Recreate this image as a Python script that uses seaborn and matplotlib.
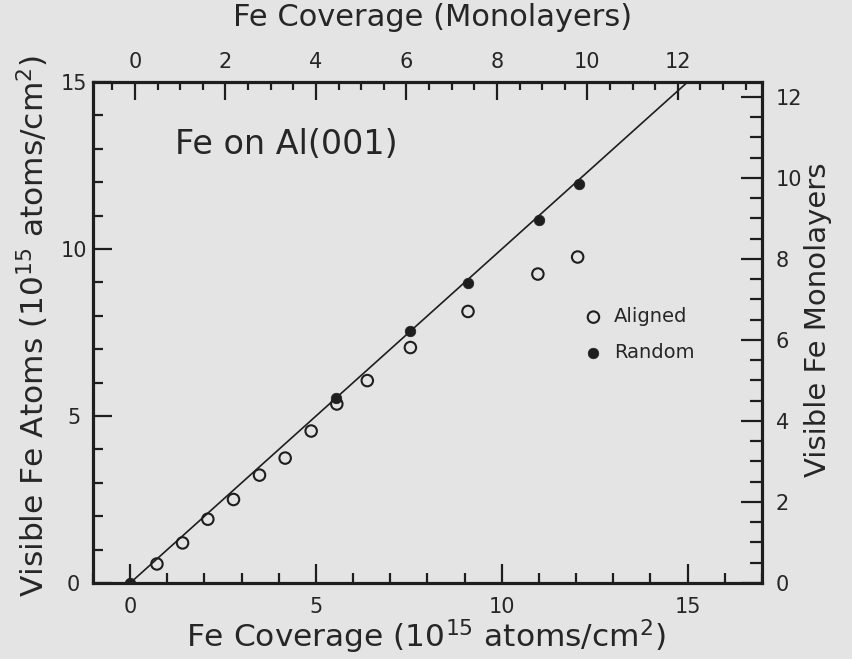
import matplotlib
matplotlib.use("Agg")
import matplotlib.pyplot as plt
import seaborn as sns
from matplotlib.ticker import MultipleLocator, FixedLocator

# ---- data ----
aligned_cov = [0.72, 1.41, 2.09, 2.78, 3.48, 4.17, 4.87, 5.56, 6.38, 7.54, 9.09, 10.97, 12.04]
aligned_vis = [0.57, 1.20, 1.91, 2.50, 3.23, 3.74, 4.55, 5.36, 6.06, 7.05, 8.13, 9.25, 9.76]
random_cov = [0.0, 5.54, 7.54, 9.09, 10.99, 12.07]
random_vis = [0.0, 5.54, 7.53, 8.98, 10.87, 11.94]
fit_cov = [0.0, 16.0]
fit_vis = [0.0, 16.0]

bottom_ticks = [0, 5, 10, 15]
left_ticks = [0, 5, 10, 15]
top_ticks = [0, 2, 4, 6, 8, 10, 12]
right_ticks = [0, 2, 4, 6, 8, 10, 12]

sns.set_theme(style="white")
plt.rcParams["font.family"] = ["DejaVu Sans"]
plt.rcParams["mathtext.fontset"] = "dejavusans"

ink = "#1e1e1e"
txt = "#262626"
bg = "#e4e4e4"

W, H = 853, 659
fig = plt.figure(figsize=(W / 100, H / 100), dpi=100, facecolor=bg)
ax = fig.add_axes([93 / W, (H - 583) / H, 669 / W, 501 / H])
ax.set_facecolor(bg)

sns.lineplot(x=fit_cov, y=fit_vis, ax=ax, color=ink, linewidth=1.2, zorder=2)
sns.scatterplot(x=aligned_cov, y=aligned_vis, ax=ax, marker="o", s=68,
                facecolors="none", edgecolor=ink, linewidth=1.5,
                label="Aligned", zorder=3)
sns.scatterplot(x=random_cov, y=random_vis, ax=ax, marker="o", s=58,
                color=ink, edgecolor=ink, linewidth=0.5,
                label="Random", zorder=4)

ax.set_xlim(-1.0, 17.0)
ax.set_ylim(0, 15)
ax.xaxis.set_major_locator(FixedLocator(bottom_ticks))
ax.xaxis.set_minor_locator(MultipleLocator(1))
ax.yaxis.set_major_locator(FixedLocator(left_ticks))
ax.yaxis.set_minor_locator(MultipleLocator(1))

tick_fs = 15
ax.tick_params(axis="both", which="both", direction="in", colors=ink,
               labelcolor=txt, top=False, right=False, bottom=True, left=True)
ax.tick_params(axis="both", which="major", length=14, width=1.6, labelsize=tick_fs)
ax.tick_params(axis="both", which="minor", length=7, width=1.6)
ax.tick_params(axis="x", which="major", pad=10)
ax.tick_params(axis="y", which="major", pad=14)
for lab in ax.get_yticklabels():
    lab.set_horizontalalignment("center")

for sp in ax.spines.values():
    sp.set_linewidth(2.2)
    sp.set_color(ink)

ax.set_xlabel(r"Fe Coverage (10$^{15}$ atoms/cm$^2$)", fontsize=22.5,
              color=txt, va="center")
ax.xaxis.set_label_coords(0.498, -0.108)
ax.set_ylabel(r"Visible Fe Atoms (10$^{15}$ atoms/cm$^2$)", fontsize=22.5,
              color=txt, va="center")
ax.yaxis.set_label_coords(-0.09, 0.513)

ax.text(1.2, 13.13, "Fe on Al(001)", fontsize=24, color=txt,
        ha="left", va="center")

leg = ax.legend(loc="center left", bbox_to_anchor=(0.719, 0.496),
                frameon=False, fontsize=14, handletextpad=0.55,
                labelspacing=0.85, markerscale=1.0, borderpad=0,
                handlelength=1.0, labelcolor=txt)

# top axis: monolayers
axt = ax.twiny()
axt.set_xlim(-0.928, 13.86)
axt.xaxis.set_major_locator(FixedLocator(top_ticks))
axt.xaxis.set_minor_locator(MultipleLocator(0.5))
axt.tick_params(axis="x", which="both", direction="in", colors=ink, labelcolor=txt,
                top=True, bottom=False, labeltop=True, labelbottom=False)
axt.tick_params(axis="x", which="major", length=13, width=1.6, labelsize=tick_fs, pad=7)
axt.tick_params(axis="x", which="minor", length=6, width=1.6)
axt.set_xlabel("Fe Coverage (Monolayers)", fontsize=22, color=txt, va="center")
axt.xaxis.set_label_coords(0.508, 1.128)

# right axis: visible monolayers
axr = ax.twinx()
axr.set_ylim(0, 12.37)
axr.yaxis.set_major_locator(FixedLocator(right_ticks))
axr.yaxis.set_minor_locator(MultipleLocator(0.5))
axr.tick_params(axis="y", which="both", direction="in", colors=ink, labelcolor=txt,
                right=True, left=False, labelright=True, labelleft=False)
axr.tick_params(axis="y", which="major", length=15, width=1.6, labelsize=tick_fs, pad=10)
axr.tick_params(axis="y", which="minor", length=9, width=1.6)
axr.set_ylabel("Visible Fe Monolayers", fontsize=21, color=txt,
               rotation=90, va="center")
axr.yaxis.set_label_coords(1.084, 0.525)

for a in (axt, axr):
    for sp in a.spines.values():
        sp.set_linewidth(2.2)
        sp.set_color(ink)

fig.savefig("out.png", dpi=100, facecolor=bg)
